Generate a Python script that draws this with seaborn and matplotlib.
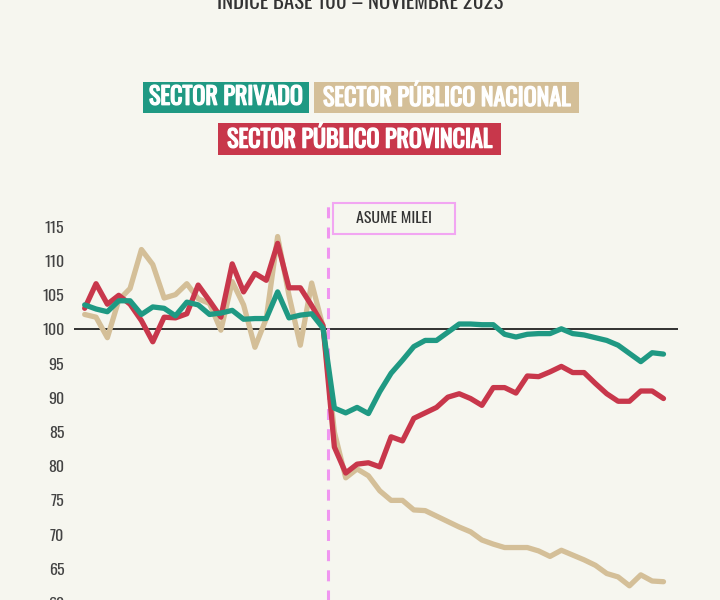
import numpy as np
import pandas as pd
import matplotlib
matplotlib.use("Agg")
import matplotlib.pyplot as plt
import matplotlib.patches as patches
import matplotlib.patheffects as pe
from matplotlib import font_manager
import seaborn as sns

# valores (índice base 100 = noviembre 2023)
privado = [103.6, 103.0, 102.6, 104.2, 104.2, 102.2, 103.3, 103.1, 102.0, 104.0,
           103.6, 102.2, 102.4, 102.8, 101.5, 101.6, 101.6, 105.5, 101.7, 102.1,
           102.3, 100.2, 88.5, 87.8, 88.6, 87.7, 90.9, 93.6, 95.5, 97.5,
           98.4, 98.4, 99.6, 100.8, 100.8, 100.7, 100.7, 99.3, 98.9, 99.3,
           99.4, 99.4, 100.1, 99.4, 99.2, 98.8, 98.4, 97.7, 96.5, 95.3,
           96.6, 96.4]
nacional = [102.2, 101.8, 98.8, 104.3, 106.0, 111.7, 109.5, 104.6, 105.1, 106.7,
            104.5, 103.8, 99.9, 107.0, 103.6, 97.4, 101.6, 113.6, 105.0, 97.7,
            106.8, 100.4, 85.0, 78.3, 79.6, 78.6, 76.4, 75.0, 75.0, 73.6,
            73.5, 72.7, 71.9, 71.1, 70.4, 69.2, 68.6, 68.1, 68.1, 68.1,
            67.6, 66.8, 67.7, 67.0, 66.3, 65.5, 64.3, 63.8, 62.5, 64.1,
            63.2, 63.1]
provincial = [103.1, 106.7, 103.7, 105.0, 103.7, 101.3, 98.2, 101.8, 101.7, 102.3,
              106.5, 104.2, 101.8, 109.6, 105.5, 108.2, 107.2, 112.6, 106.1, 106.1,
              103.5, 100.6, 82.8, 79.0, 80.3, 80.5, 79.9, 84.3, 83.7, 87.0,
              87.8, 88.6, 90.1, 90.6, 89.9, 88.9, 91.5, 91.5, 90.7, 93.2,
              93.1, 93.8, 94.6, 93.7, 93.7, 92.1, 90.6, 89.5, 89.5, 91.0,
              91.0, 89.9]

series = ["SECTOR PRIVADO", "SECTOR PÚBLICO NACIONAL", "SECTOR PÚBLICO PROVINCIAL"]
colores = {"SECTOR PRIVADO": "#1f9983",
           "SECTOR PÚBLICO NACIONAL": "#d4bf98",
           "SECTOR PÚBLICO PROVINCIAL": "#c8374b"}
y_ticks = [60, 65, 70, 75, 80, 85, 90, 95, 100, 105, 110, 115]
titulo = "ÍNDICE BASE 100 – NOVIEMBRE 2023"
evento = "ASUME MILEI"
periodo_milei = 21.47

df = pd.DataFrame({"periodo": np.arange(len(privado)),
                   series[0]: privado,
                   series[1]: nacional,
                   series[2]: provincial})
df = df.melt(id_vars="periodo", var_name="serie", value_name="indice")

sns.set_theme(style="white")
disponibles = {f.name for f in font_manager.fontManager.ttflist}
fuente = "DejaVu Sans"
for nombre in ["Oswald", "Bebas Neue", "Roboto Condensed", "Liberation Sans Narrow"]:
    if nombre in disponibles:
        fuente = nombre
        break
plt.rcParams["font.family"] = [fuente, "DejaVu Sans"]

fondo = "#f6f6ef"
fig = plt.figure(figsize=(7.2, 6), dpi=100, facecolor=fondo)
ax = fig.add_axes([0.1028, -0.039, 0.8389, 0.7006])
ax.set_facecolor(fondo)

ax.axhline(100, color="#222222", lw=1.3, zorder=1)
ax.axvline(periodo_milei, color="#f096f0", lw=2.2, dashes=(3.6, 3.0), zorder=1.5)

sns.lineplot(data=df, x="periodo", y="indice", hue="serie",
             hue_order=[series[1], series[2], series[0]],
             palette=colores, linewidth=3.8, legend=False, ax=ax, zorder=3)

ax.set_xlim(-0.94, 52.28)
ax.set_ylim(57, 118.5)
ax.set_yticks(y_ticks)
ax.set_yticklabels([str(v) for v in y_ticks])
ax.set_xticks([])
ax.set_xlabel("")
ax.set_ylabel("")
ax.tick_params(axis="y", length=0, pad=7, labelsize=11.5, labelcolor="#444444")
for s in ax.spines.values():
    s.set_visible(False)

W, H = 720, 600

def caja(x0, y0, x1, y1, texto, color, txt_color="white", borde=None, grueso=True, size=13):
    r = patches.Rectangle((x0 / W, 1 - y1 / H), (x1 - x0) / W, (y1 - y0) / H,
                          transform=fig.transFigure, facecolor=color,
                          edgecolor=borde if borde else "none", lw=1.5)
    fig.add_artist(r)
    t = fig.text((x0 + x1) / 2 / W, 1 - (y0 + y1) / 2 / H, texto, color=txt_color,
                 ha="center", va="center", fontsize=size)
    if grueso:
        t.set_path_effects([pe.withStroke(linewidth=1.0, foreground=txt_color)])

caja(142.7, 81.7, 309, 112.7, series[0], colores[series[0]], size=17.3)
caja(314.3, 81.7, 579, 112.7, series[1], colores[series[1]], size=17.3)
caja(218.3, 122.7, 500.7, 155, series[2], colores[series[2]], size=17.3)
caja(333.3, 203.3, 455, 234, evento, fondo, txt_color="#333333", borde="#f2a6f2",
     grueso=False, size=11.5)

fig.text(0.5, 1 - 9.3 / H, titulo, ha="center", va="baseline",
         fontsize=15, color="#333333")

fig.savefig("out.png", dpi=100, facecolor=fondo)
